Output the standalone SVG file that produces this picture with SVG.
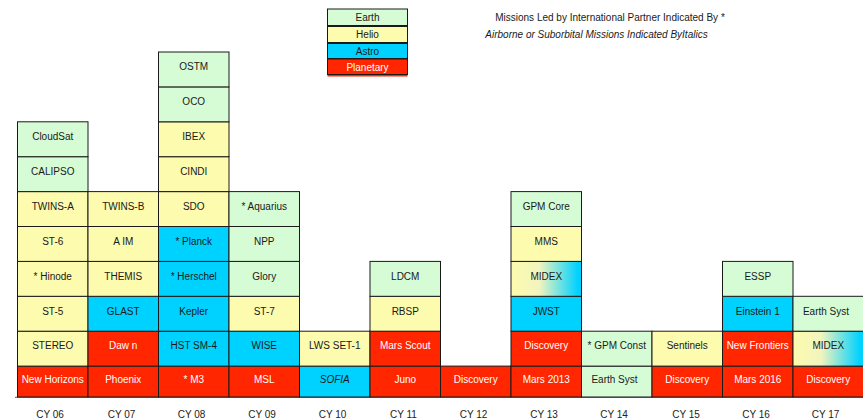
<svg xmlns="http://www.w3.org/2000/svg" width="863" height="420" viewBox="0 0 863 420">
<defs>
<linearGradient id="ha" x1="0" y1="0" x2="1" y2="0">
<stop offset="0" stop-color="#FDFBAE"/>
<stop offset="0.4" stop-color="#F2F4BE"/>
<stop offset="0.95" stop-color="#00D2FF"/>
<stop offset="1" stop-color="#00D2FF"/>
</linearGradient>
<style>
rect{stroke:#1a1a1a;stroke-width:1}
.e{fill:#D5FCD5}
.h{fill:#FDFBAE}
.a{fill:#00D2FF}
.p{fill:#FF2600}
.g{fill:url(#ha)}
text{font-family:"Liberation Sans",Arial,sans-serif;font-size:10px;text-anchor:middle;fill:#1a1a1a}
.w{fill:#ffffff}
.i{font-style:italic}
.cy{fill:#222}
</style>
</defs>
<g id="legend">
<g id="leg-earth"><rect class="e" x="327.5" y="9" width="80" height="16.5"/><text x="367.5" y="21">Earth</text></g>
<g id="leg-helio"><rect class="h" x="327.5" y="26.5" width="80" height="16"/><text x="367.5" y="38">Helio</text></g>
<g id="leg-astro"><rect class="a" x="327.5" y="43.5" width="80" height="15"/><text x="367.5" y="55">Astro</text></g>
<g id="leg-planetary"><rect class="p" x="327.5" y="59" width="80" height="15.5"/><line x1="327.5" y1="75.8" x2="407.5" y2="75.8" stroke="#FF2600" stroke-width="1.5"/><text class="w" x="367.5" y="71">Planetary</text></g>
</g>
<g id="notes">
<text x="610" y="20.5">Missions Led by International Partner Indicated By *</text>
<text class="i" x="596.5" y="37.5">Airborne or Suborbital Missions Indicated ByItalics</text>
</g>
<g id="connectors">
<line x1="15" y1="397.3" x2="863" y2="397.3" stroke="#777" stroke-width="1.2"/>
</g>
<!-- CY06 -->
<g id="cy06-newhorizons" transform="translate(17.5,366.1)"><rect class="p" width="70.5" height="30.9"/><text class="w" x="35.25" y="17.4">New Horizons</text></g>
<g id="cy06-stereo" transform="translate(17.5,331.2)"><rect class="h" width="70.5" height="34.9"/><text x="35.25" y="18.3">STEREO</text></g>
<g id="cy06-st5" transform="translate(17.5,296.3)"><rect class="h" width="70.5" height="34.9"/><text x="35.25" y="18.3">ST-5</text></g>
<g id="cy06-hinode" transform="translate(17.5,261.4)"><rect class="h" width="70.5" height="34.9"/><text x="35.25" y="18.3">* Hinode</text></g>
<g id="cy06-st6" transform="translate(17.5,226.5)"><rect class="h" width="70.5" height="34.9"/><text x="35.25" y="18.3">ST-6</text></g>
<g id="cy06-twinsa" transform="translate(17.5,191.6)"><rect class="h" width="70.5" height="34.9"/><text x="35.25" y="18.3">TWINS-A</text></g>
<g id="cy06-calipso" transform="translate(17.5,156.7)"><rect class="e" width="70.5" height="34.9"/><text x="35.25" y="18.3">CALIPSO</text></g>
<g id="cy06-cloudsat" transform="translate(17.5,121.8)"><rect class="e" width="70.5" height="34.9"/><text x="35.25" y="18.3">CloudSat</text></g>
<!-- CY07 -->
<g id="cy07-phoenix" transform="translate(88,366.1)"><rect class="p" width="70.5" height="30.9"/><text class="w" x="35.25" y="17.4">Phoenix</text></g>
<g id="cy07-dawn" transform="translate(88,331.2)"><rect class="p" width="70.5" height="34.9"/><text class="w" x="35.25" y="18.3">Daw n</text></g>
<g id="cy07-glast" transform="translate(88,296.3)"><rect class="a" width="70.5" height="34.9"/><text x="35.25" y="18.3">GLAST</text></g>
<g id="cy07-themis" transform="translate(88,261.4)"><rect class="h" width="70.5" height="34.9"/><text x="35.25" y="18.3">THEMIS</text></g>
<g id="cy07-aim" transform="translate(88,226.5)"><rect class="h" width="70.5" height="34.9"/><text x="35.25" y="18.3">A IM</text></g>
<g id="cy07-twinsb" transform="translate(88,191.6)"><rect class="h" width="70.5" height="34.9"/><text x="35.25" y="18.3">TWINS-B</text></g>
<!-- CY08 -->
<g id="cy08-m3" transform="translate(158.5,366.1)"><rect class="p" width="70.5" height="30.9"/><text class="w" x="35.25" y="17.4">* M3</text></g>
<g id="cy08-hstsm4" transform="translate(158.5,331.2)"><rect class="a" width="70.5" height="34.9"/><text x="35.25" y="18.3">HST SM-4</text></g>
<g id="cy08-kepler" transform="translate(158.5,296.3)"><rect class="a" width="70.5" height="34.9"/><text x="35.25" y="18.3">Kepler</text></g>
<g id="cy08-herschel" transform="translate(158.5,261.4)"><rect class="a" width="70.5" height="34.9"/><text x="35.25" y="18.3">* Herschel</text></g>
<g id="cy08-planck" transform="translate(158.5,226.5)"><rect class="a" width="70.5" height="34.9"/><text x="35.25" y="18.3">* Planck</text></g>
<g id="cy08-sdo" transform="translate(158.5,191.6)"><rect class="h" width="70.5" height="34.9"/><text x="35.25" y="18.3">SDO</text></g>
<g id="cy08-cindi" transform="translate(158.5,156.7)"><rect class="h" width="70.5" height="34.9"/><text x="35.25" y="18.3">CINDI</text></g>
<g id="cy08-ibex" transform="translate(158.5,121.8)"><rect class="h" width="70.5" height="34.9"/><text x="35.25" y="18.3">IBEX</text></g>
<g id="cy08-oco" transform="translate(158.5,86.9)"><rect class="e" width="70.5" height="34.9"/><text x="35.25" y="18.3">OCO</text></g>
<g id="cy08-ostm" transform="translate(158.5,52)"><rect class="e" width="70.5" height="34.9"/><text x="35.25" y="18.3">OSTM</text></g>
<!-- CY09 -->
<g id="cy09-msl" transform="translate(229,366.1)"><rect class="p" width="70.5" height="30.9"/><text class="w" x="35.25" y="17.4">MSL</text></g>
<g id="cy09-wise" transform="translate(229,331.2)"><rect class="a" width="70.5" height="34.9"/><text x="35.25" y="18.3">WISE</text></g>
<g id="cy09-st7" transform="translate(229,296.3)"><rect class="h" width="70.5" height="34.9"/><text x="35.25" y="18.3">ST-7</text></g>
<g id="cy09-glory" transform="translate(229,261.4)"><rect class="e" width="70.5" height="34.9"/><text x="35.25" y="18.3">Glory</text></g>
<g id="cy09-npp" transform="translate(229,226.5)"><rect class="e" width="70.5" height="34.9"/><text x="35.25" y="18.3">NPP</text></g>
<g id="cy09-aquarius" transform="translate(229,191.6)"><rect class="e" width="70.5" height="34.9"/><text x="35.25" y="18.3">* Aquarius</text></g>
<!-- CY10 -->
<g id="cy10-sofia" transform="translate(299.5,366.1)"><rect class="a" width="70.5" height="30.9"/><text class="i" x="35.25" y="17.4">SOFIA</text></g>
<g id="cy10-lwsset1" transform="translate(299.5,331.2)"><rect class="h" width="70.5" height="34.9"/><text x="35.25" y="18.3">LWS SET-1</text></g>
<!-- CY11 -->
<g id="cy11-juno" transform="translate(370,366.1)"><rect class="p" width="70.5" height="30.9"/><text class="w" x="35.25" y="17.4">Juno</text></g>
<g id="cy11-marsscout" transform="translate(370,331.2)"><rect class="p" width="70.5" height="34.9"/><text class="w" x="35.25" y="18.3">Mars Scout</text></g>
<g id="cy11-rbsp" transform="translate(370,296.3)"><rect class="h" width="70.5" height="34.9"/><text x="35.25" y="18.3">RBSP</text></g>
<g id="cy11-ldcm" transform="translate(370,261.4)"><rect class="e" width="70.5" height="34.9"/><text x="35.25" y="18.3">LDCM</text></g>
<!-- CY12 -->
<g id="cy12-discovery" transform="translate(440.5,366.1)"><rect class="p" width="70.5" height="30.9"/><text class="w" x="35.25" y="17.4">Discovery</text></g>
<!-- CY13 -->
<g id="cy13-mars2013" transform="translate(511,366.1)"><rect class="p" width="70.5" height="30.9"/><text class="w" x="35.25" y="17.4">Mars 2013</text></g>
<g id="cy13-discovery" transform="translate(511,331.2)"><rect class="p" width="70.5" height="34.9"/><text class="w" x="35.25" y="18.3">Discovery</text></g>
<g id="cy13-jwst" transform="translate(511,296.3)"><rect class="a" width="70.5" height="34.9"/><text x="35.25" y="18.3">JWST</text></g>
<g id="cy13-midex" transform="translate(511,261.4)"><rect class="g" width="70.5" height="34.9"/><text x="35.25" y="18.3">MIDEX</text></g>
<g id="cy13-mms" transform="translate(511,226.5)"><rect class="h" width="70.5" height="34.9"/><text x="35.25" y="18.3">MMS</text></g>
<g id="cy13-gpmcore" transform="translate(511,191.6)"><rect class="e" width="70.5" height="34.9"/><text x="35.25" y="18.3">GPM Core</text></g>
<!-- CY14 -->
<g id="cy14-earthsyst" transform="translate(581.5,366.1)"><rect class="e" width="70.5" height="30.9"/><text x="33" y="17.4">Earth Syst</text></g>
<g id="cy14-gpmconst" transform="translate(581.5,331.2)"><rect class="e" width="70.5" height="34.9"/><text x="35.25" y="18.3">* GPM Const</text></g>
<!-- CY15 -->
<g id="cy15-discovery" transform="translate(652,366.1)"><rect class="p" width="70.5" height="30.9"/><text class="w" x="35.25" y="17.4">Discovery</text></g>
<g id="cy15-sentinels" transform="translate(652,331.2)"><rect class="h" width="70.5" height="34.9"/><text x="35.25" y="18.3">Sentinels</text></g>
<!-- CY16 -->
<g id="cy16-mars2016" transform="translate(722.5,366.1)"><rect class="p" width="70.5" height="30.9"/><text class="w" x="35.25" y="17.4">Mars 2016</text></g>
<g id="cy16-newfrontiers" transform="translate(722.5,331.2)"><rect class="p" width="70.5" height="34.9"/><text class="w" x="35.25" y="18.3">New Frontiers</text></g>
<g id="cy16-einstein1" transform="translate(722.5,296.3)"><rect class="a" width="70.5" height="34.9"/><text x="35.25" y="18.3">Einstein 1</text></g>
<g id="cy16-essp" transform="translate(722.5,261.4)"><rect class="e" width="70.5" height="34.9"/><text x="35.25" y="18.3">ESSP</text></g>
<!-- CY17 -->
<g id="cy17-discovery" transform="translate(793,366.1)"><rect class="p" width="70.5" height="30.9"/><text class="w" x="35.25" y="17.4">Discovery</text></g>
<g id="cy17-midex" transform="translate(793,331.2)"><rect class="g" width="70.5" height="34.9"/><text x="35.25" y="18.3">MIDEX</text></g>
<g id="cy17-earthsyst" transform="translate(793,296.3)"><rect class="e" width="70.5" height="34.9"/><text x="33" y="18.3">Earth Syst</text></g>
<g id="axis-labels">
<text class="cy" x="50" y="418">CY 06</text>
<text class="cy" x="121.5" y="418">CY 07</text>
<text class="cy" x="191.5" y="418">CY 08</text>
<text class="cy" x="262" y="418">CY 09</text>
<text class="cy" x="332.5" y="418">CY 10</text>
<text class="cy" x="403.5" y="418">CY 11</text>
<text class="cy" x="473.5" y="418">CY 12</text>
<text class="cy" x="544" y="418">CY 13</text>
<text class="cy" x="614" y="418">CY 14</text>
<text class="cy" x="686" y="418">CY 15</text>
<text class="cy" x="756" y="418">CY 16</text>
<text class="cy" x="825.5" y="418">CY 17</text>
</g>
</svg>
